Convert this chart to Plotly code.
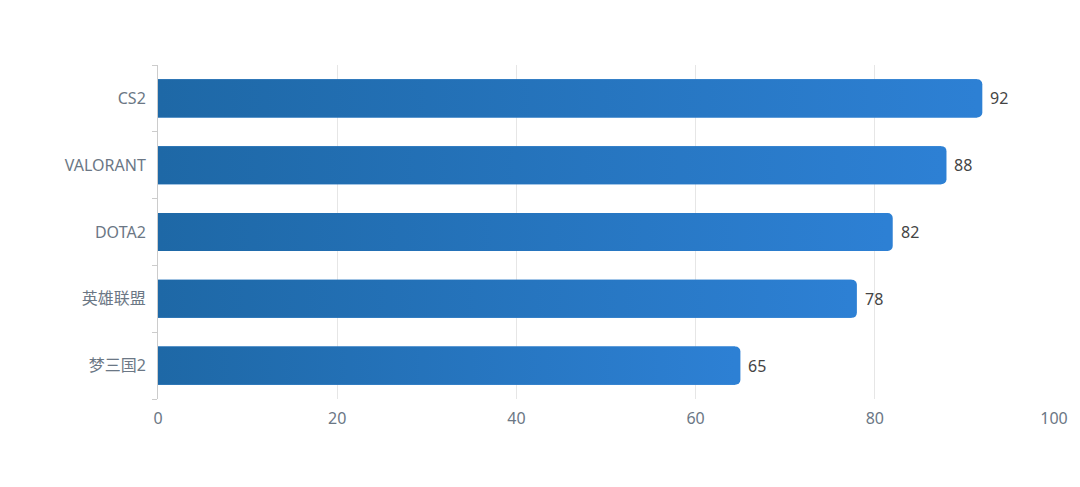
import plotly.graph_objects as go

# data, top to bottom
games = ["CS2", "VALORANT", "DOTA2", "英雄联盟", "梦三国2"]
scores = [92, 88, 82, 78, 65]
x_ticks = [0, 20, 40, 60, 80, 100]

bar_w = 0.57
c_left = "#1e68a6"
c_right = "#2d80d4"
font = "Noto Sans, Noto Sans CJK SC, sans-serif"
tick_col = "#6b7785"

pos = list(range(len(games)))

fig = go.Figure()

# base bar with rounded end, in the light end colour
fig.add_trace(go.Bar(
    x=scores, y=pos, orientation="h", width=bar_w,
    marker=dict(color=c_right, cornerradius=5, line=dict(width=0)),
    hoverinfo="skip", showlegend=False,
))

# gradient body laid over each bar
for p, v in zip(pos, scores):
    x1 = v - 0.6
    y0, y1 = p - bar_w / 2, p + bar_w / 2
    fig.add_trace(go.Scatter(
        x=[0, x1, x1, 0, 0], y=[y0, y0, y1, y1, y0],
        mode="lines", line=dict(width=0), fill="toself",
        fillgradient=dict(type="horizontal",
                          colorscale=[[0, c_left], [1, c_right]]),
        hoverinfo="skip", showlegend=False,
    ))

# value labels just past the bar ends
for p, v in zip(pos, scores):
    fig.add_annotation(x=v, y=p, text=str(v), showarrow=False,
                       xanchor="left", xshift=6,
                       font=dict(size=16, color="#444444", family=font))

# page body has an 8px margin, so the figure is offset by it
fig.update_layout(
    width=1072, height=479,
    margin=dict(l=150, r=24, t=57, b=88),
    paper_bgcolor="white", plot_bgcolor="white",
    font=dict(family=font, color=tick_col, size=16),
    xaxis=dict(range=[0, 100], tickvals=x_ticks, showgrid=True,
               gridcolor="#e6e6e6", gridwidth=1, zeroline=False,
               showline=False, ticks="", ticklabelstandoff=8,
               tickfont=dict(size=16, color=tick_col)),
    yaxis=dict(range=[len(games) - 0.5, -0.5], tickvals=pos, ticktext=games,
               showgrid=False, zeroline=False, showline=True,
               linecolor="#cccccc", linewidth=1, ticks="",
               ticklabelstandoff=8,
               tickfont=dict(size=16, color=tick_col),
               minor=dict(tickvals=[p - 0.5 for p in pos] + [len(games) - 0.5],
                          ticks="outside", ticklen=5, tickcolor="#cccccc",
                          showgrid=False)),
)

fig.write_html("out.html")
